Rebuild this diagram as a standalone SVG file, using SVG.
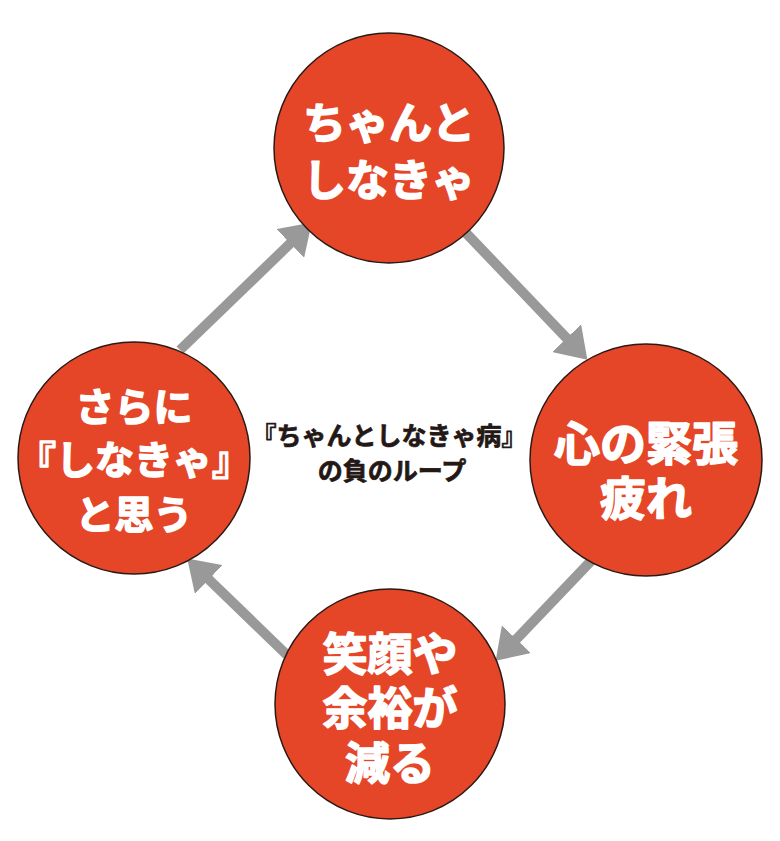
<svg xmlns="http://www.w3.org/2000/svg" width="780" height="841" viewBox="0 0 780 841">
<style>
.node circle{fill:#E64628;stroke:#2a1a16;stroke-width:1.5}
.node text{fill:#ffffff;stroke:#ffffff;stroke-width:1.6;stroke-linejoin:round;font-family:"Noto Sans CJK JP","Noto Sans CJK SC",sans-serif;font-weight:bold;text-anchor:middle}
.conn line{stroke:#999999;stroke-width:10;marker-end:url(#ah)}
.center text{fill:#231815;stroke:#231815;stroke-width:0.7;stroke-linejoin:round;font-family:"Noto Sans CJK JP","Noto Sans CJK SC",sans-serif;font-weight:bold;font-size:25px;text-anchor:middle}
</style>
<defs>
<marker id="ah" viewBox="0 0 30 40" markerWidth="30" markerHeight="40" refX="15" refY="20" orient="auto" markerUnits="userSpaceOnUse">
<polygon points="0,0 30,20 0,40" fill="#999999"/>
</marker>
</defs>
<rect width="780" height="841" fill="#ffffff"/>
<g class="conn">
<line x1="466" y1="233" x2="577" y2="349"/>
<line x1="591" y1="561" x2="506" y2="650"/>
<line x1="287" y1="655" x2="198" y2="569"/>
<line x1="180" y1="350" x2="301" y2="233"/>
</g>
<g id="n1" class="node">
<circle cx="389" cy="148" r="115"/>
<text font-size="43"><tspan x="389" y="139">ちゃんと</tspan><tspan x="389" y="196">しなきゃ</tspan></text>
</g>
<g id="n2" class="node">
<circle cx="646" cy="460" r="116"/>
<text font-size="46"><tspan x="646" y="460">心の緊張</tspan><tspan x="646" y="515">疲れ</tspan></text>
</g>
<g id="n3" class="node">
<circle cx="390" cy="704" r="115"/>
<text font-size="45"><tspan x="390" y="671">笑顔や</tspan><tspan x="390" y="725">余裕が</tspan><tspan x="390" y="780">減る</tspan></text>
</g>
<g id="n4" class="node">
<circle cx="134" cy="458" r="116"/>
<text font-size="39"><tspan x="134" y="421">さらに</tspan><tspan x="134" y="474">『しなきゃ』</tspan><tspan x="134" y="529">と思う</tspan></text>
</g>
<g id="center" class="center">
<text><tspan x="389" y="445">『ちゃんとしなきゃ病』</tspan><tspan x="392" y="480">の負のループ</tspan></text>
</g>
</svg>
